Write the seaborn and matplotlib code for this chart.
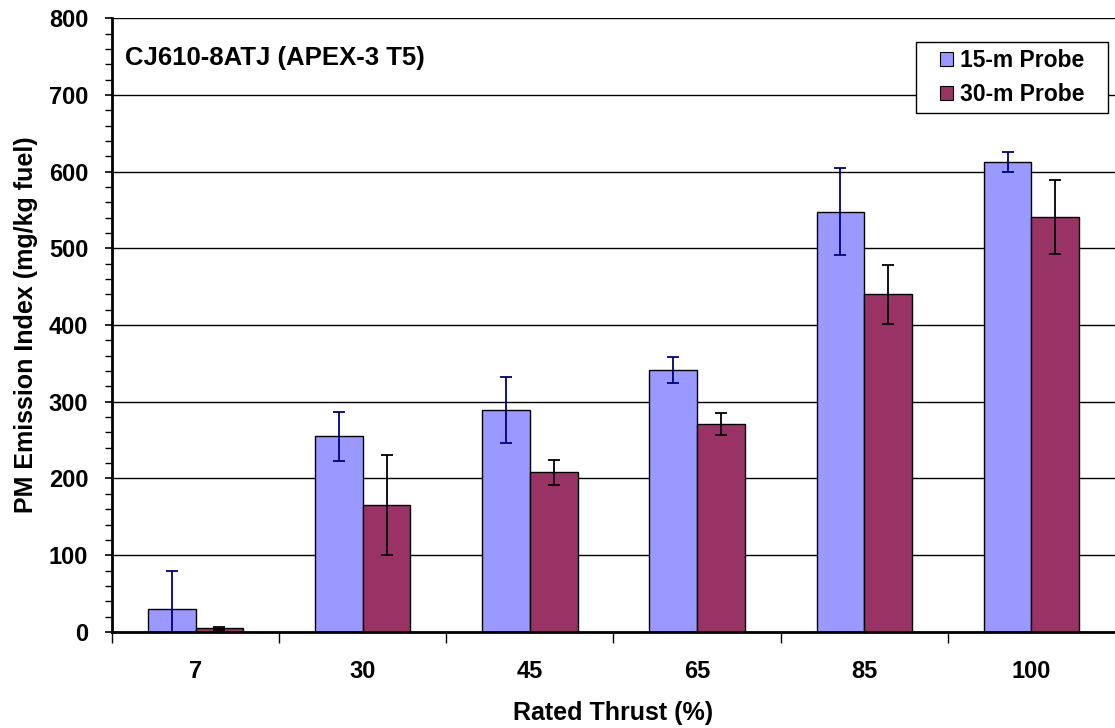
# coding: utf-8
import numpy as np
import pandas as pd
import seaborn as sns
from matplotlib import pyplot as plt
from matplotlib.patches import Rectangle
from matplotlib.ticker import MultipleLocator

# data
thrust = ['7', '30', '45', '65', '85', '100']
probe_15m = [30, 255, 289, 341, 548, 613]
err_15m = [49, 32, 43, 17, 57, 13]
probe_30m = [5, 165, 208, 271, 440, 541]
err_30m = [2, 65, 16, 14, 38, 48]
series = ['15-m Probe', '30-m Probe']
colors = ['#9999FF', '#993366']
err_colors = ['#000080', 'black']


def main():
    sns.set_style('white')
    plt.rcParams['font.family'] = ['Liberation Sans', 'DejaVu Sans']
    plt.rcParams['font.weight'] = 'bold'
    for key in ['text.color', 'axes.labelcolor', 'xtick.color', 'ytick.color']:
        plt.rcParams[key] = 'black'

    df = pd.DataFrame({
        'thrust': thrust * 2,
        'value': probe_15m + probe_30m,
        'series': [series[0]] * len(thrust) + [series[1]] * len(thrust),
    })

    fig = plt.figure(figsize=(11.15, 7.28), dpi=100)
    ax = fig.add_axes([0.1004, 0.132, 0.8996, 0.843])
    ax.set_axisbelow(True)
    sns.barplot(data=df, x='thrust', y='value', hue='series', order=thrust,
                hue_order=series, palette=colors, width=0.571,
                edgecolor='black', linewidth=1.0, saturation=1, ax=ax)

    # error bars on bar centres
    errs = [err_15m, err_30m]
    vals = [probe_15m, probe_30m]
    bar_groups = list(ax.containers)
    for i, cont in enumerate(bar_groups):
        xs = [p.get_x() + p.get_width() / 2 for p in cont.patches]
        ax.errorbar(xs, vals[i], yerr=errs[i], fmt='none', ecolor=err_colors[i],
                    elinewidth=1.3, capsize=4, capthick=1.3, zorder=5)

    ax.set_ylim(0, 800)
    ax.set_xlim(-0.5, len(thrust) - 0.5)
    ax.yaxis.set_major_locator(MultipleLocator(100))
    ax.yaxis.set_minor_locator(MultipleLocator(20))
    ax.yaxis.grid(True, which='major', color='black', linewidth=1.0)
    ax.tick_params(axis='y', which='major', direction='out', length=5, width=1.2,
                   left=True, labelsize=17, pad=12)
    ax.tick_params(axis='y', which='minor', direction='out', length=5, width=1.0, left=True)

    # x ticks between categories, labels at centres
    ax.set_xticks(np.arange(len(thrust)) - 0.5, minor=True)
    ax.tick_params(axis='x', which='minor', direction='out', length=8, width=1.0, bottom=True)
    ax.tick_params(axis='x', which='major', length=0, labelsize=17, pad=20)

    for side in ['top', 'right']:
        ax.spines[side].set_visible(False)
    for side in ['left', 'bottom']:
        ax.spines[side].set_linewidth(2)
        ax.spines[side].set_color('black')

    ax.set_xlabel('Rated Thrust (%)', fontsize=18, fontweight='bold', labelpad=13)
    ax.set_ylabel('PM Emission Index (mg/kg fuel)', fontsize=18, fontweight='bold', labelpad=8)

    ax.text(0.013, 0.935, 'CJ610-8ATJ (APEX-3 T5)', transform=ax.transAxes,
            fontsize=18.5, fontweight='bold', va='center', ha='left')

    leg = ax.legend(loc='upper right', bbox_to_anchor=(0.976, 0.961), fontsize=16.5,
                    frameon=False, handlelength=0.55, handleheight=0.55,
                    handletextpad=0.3, borderpad=0.3, labelspacing=0.5,
                    borderaxespad=0)
    for h in leg.legend_handles:
        h.set_edgecolor('black')
        h.set_linewidth(0.8)

    # legend frame with wider side padding, as in the original
    fig.canvas.draw()
    bb = leg.get_window_extent()
    side = 17
    frame = Rectangle((bb.x0 - side, bb.y0), bb.width + 2 * side, bb.height,
                      transform=None, facecolor='white', edgecolor='black',
                      linewidth=1.0)
    frame.set_figure(fig)
    fig.patches.append(frame)
    ax.set_zorder(1)
    frame.set_zorder(2)
    leg.remove()
    fig.legends.append(leg)
    leg.set_zorder(3)

    fig.savefig('out.png', dpi=100)


if __name__ == '__main__':
    main()
